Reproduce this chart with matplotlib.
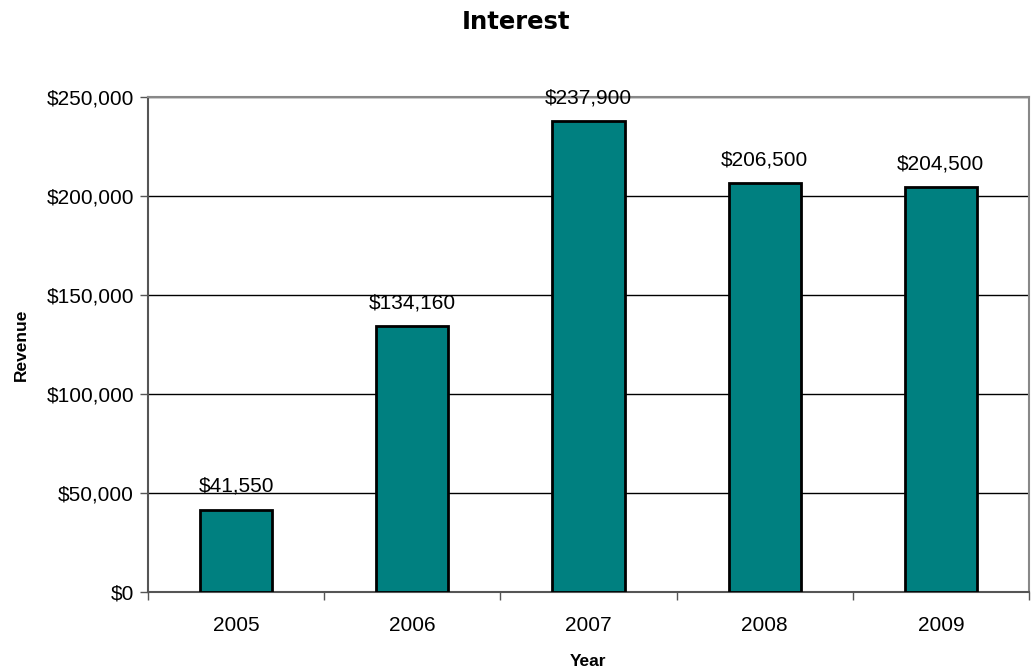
import matplotlib.pyplot as plt
from matplotlib.ticker import FuncFormatter, FixedLocator

years = ['2005', '2006', '2007', '2008', '2009']
revenue = [41550, 134160, 237900, 206500, 204500]

plt.rcParams['font.family'] = ['Liberation Sans', 'DejaVu Sans']

fig = plt.figure(figsize=(10.31, 6.71), dpi=100)
ax = fig.add_axes([148/1031, 1 - 592/671, 881/1031, 495/671])

x = range(len(years))
ax.bar(x, revenue, width=0.41, color='#008080', edgecolor='black', linewidth=2, zorder=3)

for xi, v in zip(x, revenue):
    ax.annotate('${:,}'.format(v), (xi, v), xytext=(0, 10), textcoords='offset points',
                ha='center', va='bottom', fontsize=15, color='black')

ax.set_xlim(-0.5, len(years) - 0.5)
ax.set_ylim(0, 250000)
ax.set_yticks(range(0, 250001, 50000))
ax.yaxis.set_major_formatter(FuncFormatter(lambda v, p: '${:,.0f}'.format(v)))
ax.yaxis.grid(True, color='black', linewidth=1, zorder=0)

# category ticks sit between bars, labels centred on bars
ax.xaxis.set_major_locator(FixedLocator([i - 0.5 for i in range(len(years) + 1)]))
ax.xaxis.set_major_formatter(FuncFormatter(lambda v, p: ''))
ax.xaxis.set_minor_locator(FixedLocator(list(x)))
ax.set_xticklabels(years, minor=True)
ax.tick_params(axis='x', which='minor', length=0, pad=17, labelsize=15)
ax.tick_params(axis='x', which='major', length=6, width=1, color='#555555', direction='out')
ax.tick_params(axis='y', length=6, width=1, color='#555555', labelsize=15, pad=4)

for s in ['left', 'bottom']:
    ax.spines[s].set_color('#555555')
    ax.spines[s].set_linewidth(1.5)
for s in ['top', 'right']:
    ax.spines[s].set_color('#888888')
    ax.spines[s].set_linewidth(1.5)

ax.set_xlabel('Year', fontsize=12.5, fontweight='bold', labelpad=14)
ax.set_ylabel('Revenue', fontsize=12.5, fontweight='bold', labelpad=13)
fig.text(0.5, 1 - 22/671, 'Interest', ha='center', va='center', fontsize=17.5,
         fontweight='bold', family='DejaVu Sans')

fig.savefig('out.png', dpi=100)
